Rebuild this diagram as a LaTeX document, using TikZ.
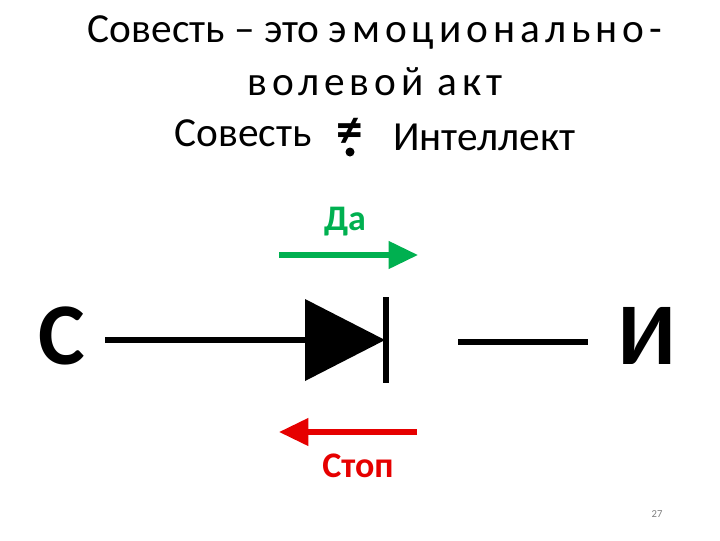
\documentclass[tikz,border=0pt]{standalone}
\usepackage{fontspec}
\setmainfont{Carlito}
\usetikzlibrary{arrows.meta}
\begin{document}
\begin{tikzpicture}[x=0.75pt,y=-0.75pt,
  wire/.style={line width=4.5pt},
  txt/.style={inner sep=0pt,anchor=center}]
\useasboundingbox (0,0) rectangle (720,540);
\node[txt,font=\fontsize{31}{34}\selectfont] (t1) at (375,32) {Совесть – это \addfontfeature{LetterSpace=12}эмоционально-};
\node[txt,font=\fontsize{31}{34}\selectfont] (t2) at (375,82) {\addfontfeature{LetterSpace=12}волевой акт};
\node[txt,font=\fontsize{31}{34}\selectfont,anchor=east] (t3a) at (312,133) {Совесть};
\node[txt,font=\fontsize{40}{40}\selectfont\bfseries] (neq) at (350,133) {≠};
\fill (350,152) circle (4.5);
\node[txt,font=\fontsize{31}{34}\selectfont,anchor=west] (t3b) at (393,137) {Интеллект};
\node[txt,font=\fontsize{66}{70}\selectfont\bfseries] (C) at (62,336) {С};
\node[txt,font=\fontsize{66}{70}\selectfont\bfseries] (I) at (647,336) {И};
\coordinate (w1) at (105,340); \coordinate (w2) at (305,340);
\coordinate (w3) at (458,342); \coordinate (w4) at (588,342);
\draw[wire] (w1) -- (w2);
\draw[wire] (w3) -- (w4);
\fill (305,299) -- (385,340) -- (305,381) -- cycle;
\draw[line width=4pt] (386,297) -- (386,383);
\coordinate (g1) at (279,255); \coordinate (g2) at (418,255);
\draw[line width=4pt,draw={rgb,255:red,0;green,176;blue,80},-{Triangle[length=22pt,width=20pt]}] (g1) -- (g2);
\node[txt,font=\fontsize{27}{30}\selectfont\bfseries,text={rgb,255:red,0;green,176;blue,80}] (da) at (345,222) {Да};
\coordinate (r1) at (417,432); \coordinate (r2) at (279,432);
\draw[line width=4pt,draw={rgb,255:red,230;green,0;blue,0},-{Triangle[length=22pt,width=20pt]}] (r1) -- (r2);
\node[txt,font=\fontsize{27}{30}\selectfont\bfseries,text={rgb,255:red,230;green,0;blue,0}] (stop) at (358,466) {Стоп};
\node[txt,font=\fontsize{8}{9}\selectfont,text=gray] (pg) at (657,514) {27};
\end{tikzpicture}
\end{document}
